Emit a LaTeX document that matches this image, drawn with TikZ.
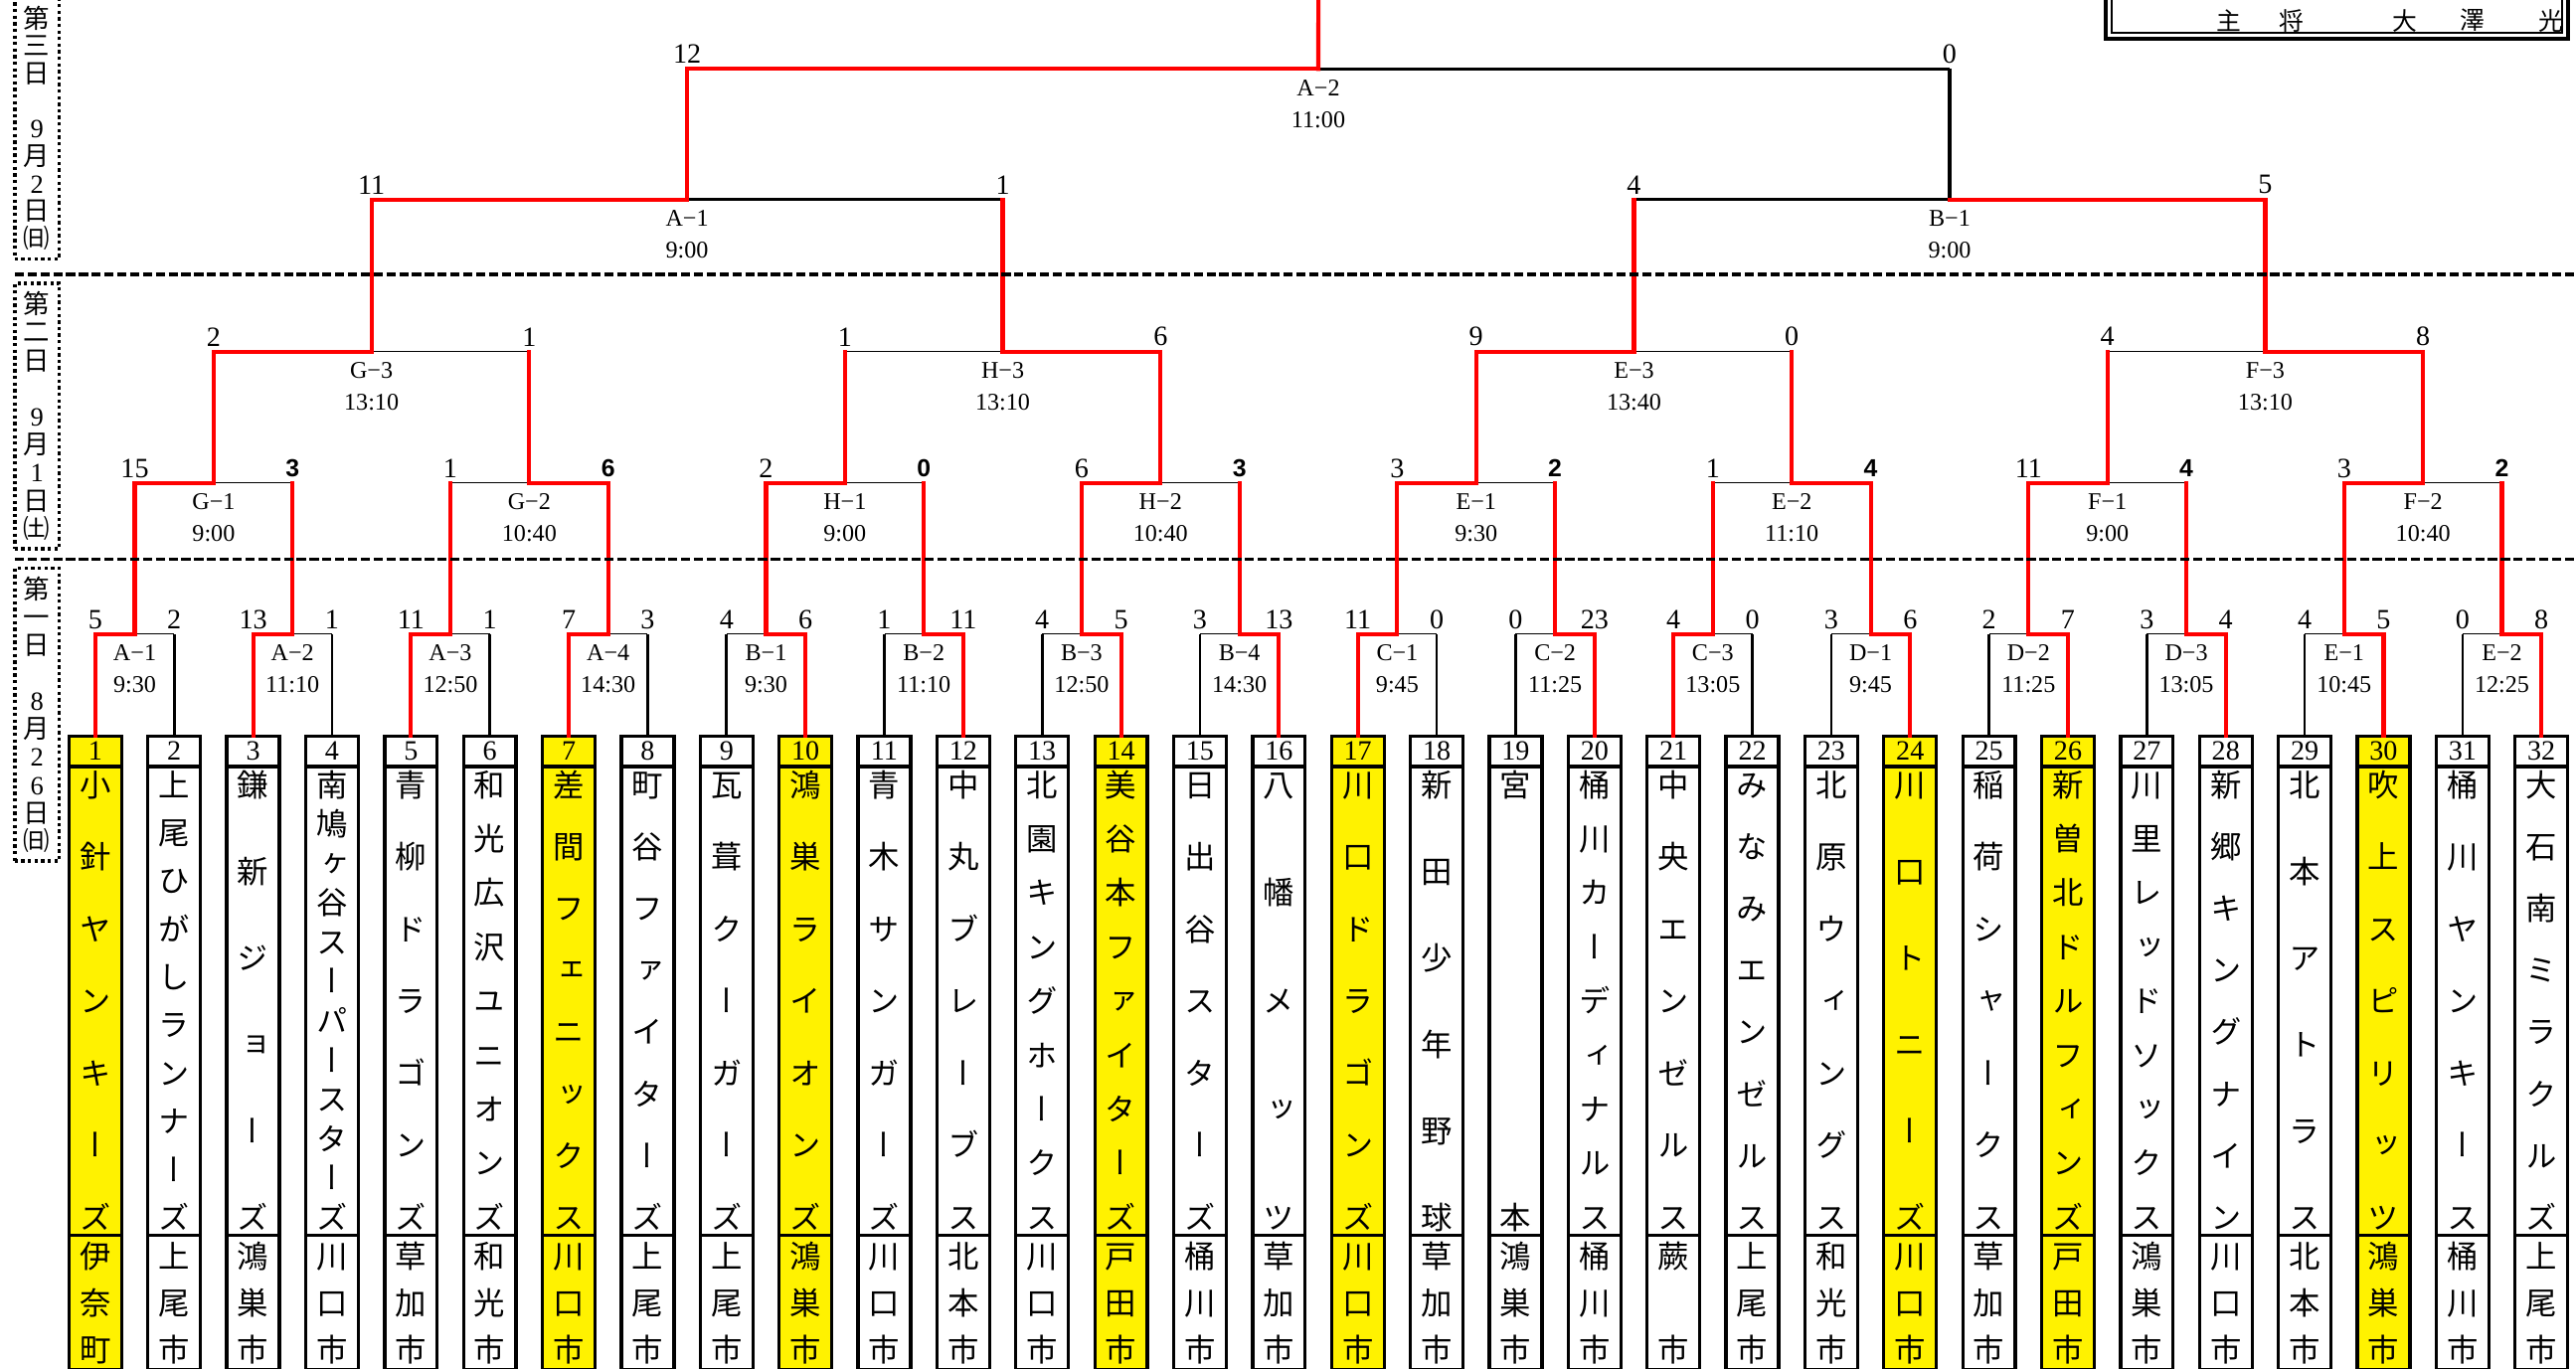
\documentclass[tikz,border=0pt]{standalone}
\usepackage{fontspec}
\setmainfont{Liberation Serif}
\newfontfamily\jpv{Noto Sans CJK JP}[RawFeature=+vert]
\newfontfamily\boldsans{Liberation Sans}
\usetikzlibrary{positioning,calc}

% characters spread from top to bottom of a cell
\makeatletter
\newcommand\vspread[2]{%
  \vbox to \dimexpr#2+.88em\relax{\offinterlineskip\hsize=1em
    \let\vs@sep\relax
    \@tfor\vs@c:=#1\do{\vs@sep
      \hbox to\hsize{\hss\vs@c\hss\vrule height.88em depth.12em width0pt}%
      \let\vs@sep\vfill}}}
\makeatother

% one team column: number, name, town
\newcommand\team[4]{%
  \node[numbox, fill=#4] (num#1) at ({58+48.03*(#1-1)},457.3) {#1};
  \node[namebox, fill=#4, below=0pt of num#1] (name#1) {\vspread{#2}{131.7pt}};
  \node[citybox, fill=#4, below=0pt of name#1] (city#1) {\vspread{#3}{28.5pt}};
  \coordinate (n0-#1) at (num#1.north);}

\begin{document}
\begin{tikzpicture}[x=0.5pt, y=-0.5pt,
  win/.style={red, line width=1.25pt, line cap=rect},
  lose/.style={black, line width=0.4pt},
  losetop/.style={black, line width=1pt},
  leaf/.style={black, line width=0.8pt},
  numbox/.style={draw, line width=1pt, inner sep=0pt, outer sep=0pt, minimum width=16pt,
    minimum height=9.3pt, font=\fontsize{8.5}{8.5}\selectfont},
  namebox/.style={numbox, minimum height=142.7pt, font=\jpv\fontsize{9.5}{9.5}\selectfont},
  citybox/.style={namebox, minimum height=41pt},
  score/.style={inner sep=0pt, font=\fontsize{8.5}{8.5}\selectfont},
  mlabel/.style={inner sep=0pt, font=\fontsize{7.3}{7.3}\selectfont},
  daybox/.style={draw, densely dotted, line width=1pt, inner sep=0pt, minimum width=13.5pt,
    font=\jpv\fontsize{8}{8}\selectfont},
  dayline/.style={line width=1pt, dash pattern=on 2.8pt off 1.1pt}]
  \useasboundingbox (0,0) rectangle (1568,833);

  % day boxes
  \node[daybox, minimum height=79.5pt] (day3) at (22.5,78)
    {\vspread{第三日{\phantom{日}}{\rmfamily 9}月{\rmfamily 2}日㈰}{67pt}};
  \node[daybox, minimum height=80.8pt] (day2) at (22.5,253.2)
    {\vspread{第二日{\phantom{日}}{\rmfamily 9}月{\rmfamily 1}日㈯}{68.3pt}};
  \node[daybox, minimum height=89pt] (day1) at (22.5,435)
    {\vspread{第一日{\phantom{日}}{\rmfamily 8}月{\rmfamily 2}{\rmfamily 6}日㈰}{76.5pt}};

  % captain box
  \draw[line width=1.2pt] (1282,-10) |- (1563,23.8) -- (1563,-10);
  \draw[line width=0.5pt] (1285.5,-10) |- (1559.5,20) -- (1559.5,-10);
  \foreach \ch/\xx in {主/1357, 将/1395, 大/1464, 澤/1505, 光/1553}
    \node[font=\jpv\fontsize{7.5}{7.5}\selectfont, inner sep=0pt] (cap-\xx) at (\xx,12.5) {\ch};

  % teams
  \team{1}{小針ヤンキーズ}{伊奈町}{yellow}
  \team{2}{上尾ひがしランナーズ}{上尾市}{white}
  \team{3}{鎌新ジョーズ}{鴻巣市}{white}
  \team{4}{南鳩ヶ谷スーパースターズ}{川口市}{white}
  \team{5}{青柳ドラゴンズ}{草加市}{white}
  \team{6}{和光広沢ユニオンズ}{和光市}{white}
  \team{7}{差間フェニックス}{川口市}{yellow}
  \team{8}{町谷ファイターズ}{上尾市}{white}
  \team{9}{瓦葺クーガーズ}{上尾市}{white}
  \team{10}{鴻巣ライオンズ}{鴻巣市}{yellow}
  \team{11}{青木サンガーズ}{川口市}{white}
  \team{12}{中丸ブレーブス}{北本市}{white}
  \team{13}{北園キングホークス}{川口市}{white}
  \team{14}{美谷本ファイターズ}{戸田市}{yellow}
  \team{15}{日出谷スターズ}{桶川市}{white}
  \team{16}{八幡メッツ}{草加市}{white}
  \team{17}{川口ドラゴンズ}{川口市}{yellow}
  \team{18}{新田少年野球}{草加市}{white}
  \team{19}{宮本}{鴻巣市}{white}
  \team{20}{桶川カーディナルス}{桶川市}{white}
  \team{21}{中央エンゼルス}{蕨市}{white}
  \team{22}{みなみエンゼルス}{上尾市}{white}
  \team{23}{北原ウィングス}{和光市}{white}
  \team{24}{川口トニーズ}{川口市}{yellow}
  \team{25}{稲荷シャークス}{草加市}{white}
  \team{26}{新曽北ドルフィンズ}{戸田市}{yellow}
  \team{27}{川里レッドソックス}{鴻巣市}{white}
  \team{28}{新郷キングナイン}{川口市}{white}
  \team{29}{北本アトラス}{北本市}{white}
  \team{30}{吹上スピリッツ}{鴻巣市}{yellow}
  \team{31}{桶川ヤンキース}{桶川市}{white}
  \team{32}{大石南ミラクルズ}{上尾市}{white}

  % match points: level/height/count
  \foreach \lv/\yy/\cnt in {1/386/16, 2/294/8, 3/214/4, 4/121.5/2, 5/42/1}
    \foreach \m in {1,...,\cnt}{
      \pgfmathsetmacro\xx{58+48.03*((\m-1)*2^\lv+(2^\lv-1)/2)}
      \coordinate (n\lv-\m) at (\xx,\yy);
    }
  \coordinate (top) at (802.5,-5);

  % level/match/left/right/winner (0 left, 1 right)/name/time
  \def\matches{1/1/5/2/0/A−1/9:30, 1/2/13/1/0/A−2/11:10, 1/3/11/1/0/A−3/12:50,
    1/4/7/3/0/A−4/14:30, 1/5/4/6/1/B−1/9:30, 1/6/1/11/1/B−2/11:10,
    1/7/4/5/1/B−3/12:50, 1/8/3/13/1/B−4/14:30, 1/9/11/0/0/C−1/9:45,
    1/10/0/23/1/C−2/11:25, 1/11/4/0/0/C−3/13:05, 1/12/3/6/1/D−1/9:45,
    1/13/2/7/1/D−2/11:25, 1/14/3/4/1/D−3/13:05, 1/15/4/5/1/E−1/10:45,
    1/16/0/8/1/E−2/12:25,
    2/1/15/3/0/G−1/9:00, 2/2/1/6/1/G−2/10:40, 2/3/2/0/0/H−1/9:00,
    2/4/6/3/0/H−2/10:40, 2/5/3/2/0/E−1/9:30, 2/6/1/4/1/E−2/11:10,
    2/7/11/4/0/F−1/9:00, 2/8/3/2/0/F−2/10:40,
    3/1/2/1/0/G−3/13:10, 3/2/1/6/1/H−3/13:10, 3/3/9/0/0/E−3/13:40,
    3/4/4/8/1/F−3/13:10,
    4/1/11/1/0/A−1/9:00, 4/2/4/5/1/B−1/9:00,
    5/1/12/0/0/A−2/11:00}

  % losing sides and texts
  \foreach \lv/\m/\sa/\sb/\wn/\lab/\tm in \matches {
    \pgfmathtruncatemacro\pv{\lv-1}
    \pgfmathtruncatemacro\ca{2*\m-1}
    \pgfmathtruncatemacro\cb{2*\m}
    \ifnum\wn=0 \def\lc{n\pv-\cb}\else\def\lc{n\pv-\ca}\fi
    \ifnum\lv>3 \tikzset{halfbar/.style={losetop}}\else\tikzset{halfbar/.style={lose}}\fi
    \draw[halfbar] (n\lv-\m) -- (\lc |- n\lv-\m);
    \ifnum\lv=1 \draw[leaf] (\lc) -- (\lc |- n\lv-\m);\fi
    \ifnum\lv=5 \draw[losetop] (\lc) -- (\lc |- n\lv-\m);\fi
    \ifnum\lv=2 \def\rf{\boldsans\bfseries\fontsize{7.5}{7.5}\selectfont}\else\def\rf{}\fi
    \node[score] (sa\lv-\m) at ($(n\pv-\ca |- n\lv-\m)+(0,-9)$) {\sa};
    \node[score] (sb\lv-\m) at ($(n\pv-\cb |- n\lv-\m)+(0,-9)$) {\rf\sb};
    \node[mlabel] (lab\lv-\m) at ($(n\lv-\m)+(0,11.5)$) {\lab};
    \node[mlabel] (tm\lv-\m) at ($(n\lv-\m)+(0,31)$) {\tm};
  }

  % winning ways
  \foreach \lv/\m/\sa/\sb/\wn/\lab/\tm in \matches {
    \pgfmathtruncatemacro\pv{\lv-1}
    \pgfmathtruncatemacro\ca{2*\m-1}
    \pgfmathtruncatemacro\cb{2*\m}
    \ifnum\wn=0 \def\wc{n\pv-\ca}\def\lc{n\pv-\cb}\else\def\wc{n\pv-\cb}\def\lc{n\pv-\ca}\fi
    \draw[win] (\wc) -- (\wc |- n\lv-\m) -- (n\lv-\m);
    \ifnum\lv>1 \ifnum\lv<5 \draw[win] (\lc) -- (\lc |- n\lv-\m);\fi\fi
  }
  \draw[win] (n5-1) -- (top);

  % day lines
  \draw[dayline] (9,167) -- (1580,167);
  \draw[dayline] (9,340.5) -- (1580,340.5);
\end{tikzpicture}
\end{document}
